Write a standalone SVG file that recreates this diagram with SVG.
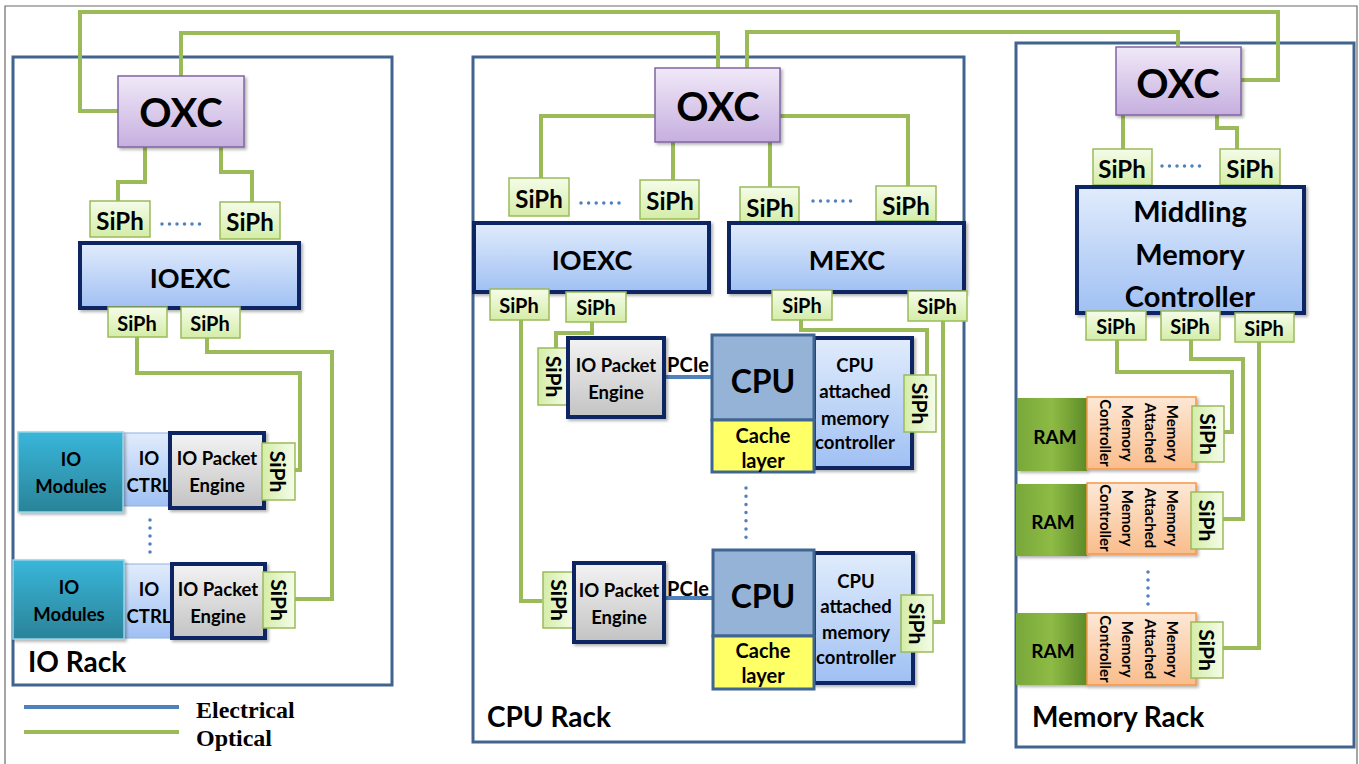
<svg xmlns="http://www.w3.org/2000/svg" width="1359" height="764" viewBox="0 0 1359 764">
<defs>
<linearGradient id="gOxc" x1="0" y1="0" x2="0" y2="1"><stop offset="0" stop-color="#f0e9f8"/><stop offset="1" stop-color="#c6afdf"/></linearGradient>
<linearGradient id="gExc" x1="0" y1="0" x2="0" y2="1"><stop offset="0" stop-color="#e1ecfc"/><stop offset="1" stop-color="#a0c0f3"/></linearGradient>
<linearGradient id="gSiph" x1="0" y1="0" x2="0" y2="1"><stop offset="0" stop-color="#f5fce9"/><stop offset="1" stop-color="#d4eda8"/></linearGradient>
<linearGradient id="gSiphV" x1="1" y1="0" x2="0" y2="0"><stop offset="0" stop-color="#f5fce9"/><stop offset="1" stop-color="#d4eda8"/></linearGradient>
<linearGradient id="gGray" x1="0" y1="0" x2="0" y2="1"><stop offset="0" stop-color="#f3f3f3"/><stop offset="1" stop-color="#c3c3c3"/></linearGradient>
<linearGradient id="gMod" x1="0" y1="0" x2="0" y2="1"><stop offset="0" stop-color="#39b6da"/><stop offset="1" stop-color="#2a8398"/></linearGradient>
<linearGradient id="gRam" x1="0" y1="0" x2="1" y2="0"><stop offset="0" stop-color="#78a83a"/><stop offset="0.5" stop-color="#8ebb45"/><stop offset="1" stop-color="#5d8b28"/></linearGradient>
<linearGradient id="gMamc" x1="0" y1="0" x2="0" y2="1"><stop offset="0" stop-color="#fde8d6"/><stop offset="1" stop-color="#fabd8c"/></linearGradient>
<filter id="sh" x="-10%" y="-10%" width="130%" height="130%"><feDropShadow dx="2" dy="2" stdDeviation="1.5" flood-color="#000" flood-opacity="0.3"/></filter>
</defs>
<style>
.t{font-family:Lato,"Open Sans","Liberation Sans",sans-serif;font-weight:bold;fill:#000;text-anchor:middle;dominant-baseline:central}
.rack{fill:#fff;stroke:#41648f;stroke-width:3}
.oxc{fill:url(#gOxc);stroke:#8064a2;stroke-width:1.5}
.exc{fill:url(#gExc);stroke:#0c2764;stroke-width:4}
.siph{fill:url(#gSiph);stroke:#9bbb59;stroke-width:1.5}
.siphv{fill:url(#gSiphV);stroke:#9bbb59;stroke-width:1.5}
.eng{fill:url(#gGray);stroke:#0c2764;stroke-width:4}
.mod{fill:url(#gMod);stroke:#92d3e8;stroke-width:1.5}
.ctrl{fill:url(#gExc);stroke:#8eb1e2;stroke-width:1}
.cpu{fill:#95b3d7;stroke:#3f6591;stroke-width:3}
.cache{fill:#ffff66;stroke:#3f6591;stroke-width:3}
.ram{fill:url(#gRam)}
.mamc{fill:url(#gMamc);stroke:#f79646;stroke-width:1.5}
.opt{fill:none;stroke:#9bbb59;stroke-width:4}
.elec{fill:none;stroke:#4f81bd;stroke-width:4}
.dots{fill:none;stroke:#4f81bd;stroke-width:3.5;stroke-linecap:round}
.sT{font-size:24px}.sB{font-size:20px}.sV{font-size:21px}.s18{font-size:18.5px}.sm{font-size:15px}
.leg{font-family:"Liberation Serif",serif;font-weight:bold;font-size:24px;fill:#000}
.rl{font-size:28px;text-anchor:start}
</style>
<rect width="1359" height="764" fill="#fff"/>
<path d="M5,764 V6 H1357 V764" fill="none" stroke="#6b6b6b" stroke-width="1.2"/>

<g id="racks">
<rect id="io-rack" class="rack" x="13" y="57" width="379" height="628"/>
<rect id="cpu-rack" class="rack" x="473" y="57" width="491" height="685"/>
<rect id="mem-rack" class="rack" x="1016" y="43" width="338" height="704"/>
</g>

<g id="connectors">
<path class="opt" d="M118,111 H80 V12 H1278 V80 H1241"/>
<path class="opt" d="M181,76 V33 H718 V68"/>
<path class="opt" d="M747,68 V32 H1178 V47"/>
<path class="opt" d="M145,147 V182 H118 V201"/>
<path class="opt" d="M221,147 V172 H252 V202"/>
<path class="opt" d="M137,337 V373 H300 V470 H295"/>
<path class="opt" d="M207,338 V352 H332 V599 H295"/>
<path class="opt" d="M655,116 H541 V178"/>
<path class="opt" d="M673,142 V180"/>
<path class="opt" d="M770,142 V187"/>
<path class="opt" d="M780,116 H908 V186"/>
<path class="opt" d="M521,320 V601 H542"/>
<path class="opt" d="M592,322 V333 H556 V348"/>
<path class="opt" d="M801,320 V330 H927 V375"/>
<path class="opt" d="M943,321 V622 H933"/>
<path class="opt" d="M1123,115 V149"/>
<path class="opt" d="M1217,115 V128 H1237 V149"/>
<path class="opt" d="M1117,340 V372 H1232 V432 H1224"/>
<path class="opt" d="M1191,340 V359 H1243 V519 H1223"/>
<path class="opt" d="M1259,342 V648 H1223"/>
<path class="elec" d="M664,377 H712" stroke-width="3.5"/>
<path class="elec" d="M664,598 H713" stroke-width="3.5"/>
</g>

<g id="dots">
<path class="dots" d="M162,224 H200" stroke-dasharray="0 7.5"/>
<path class="dots" d="M581,203 H620" stroke-dasharray="0 7.6"/>
<path class="dots" d="M813,201 H858" stroke-dasharray="0 7.5"/>
<path class="dots" d="M1162,166 H1207" stroke-dasharray="0 7.5"/>
<path class="dots" d="M150,520 V553" stroke-dasharray="0 8"/>
<path class="dots" d="M746,488 V538" stroke-dasharray="0 8.2"/>
<path class="dots" d="M1148,572 V605" stroke-dasharray="0 8"/>
</g>

<!-- IO rack -->
<g id="io-oxc"><rect class="oxc" x="118" y="76" width="126" height="71" filter="url(#sh)"/><text class="t" x="181" y="112" font-size="40">OXC</text></g>
<g id="io-siph-t1"><rect class="siph" x="90" y="201" width="60" height="36"/><text class="t sT" x="120" y="220">SiPh</text></g>
<g id="io-siph-t2"><rect class="siph" x="220" y="202" width="60" height="37"/><text class="t sT" x="250" y="221">SiPh</text></g>
<g id="io-ioexc"><rect class="exc" x="80" y="243" width="219" height="65" filter="url(#sh)"/><text class="t" x="190" y="277" font-size="27">IOEXC</text></g>
<g id="io-siph-b1"><rect class="siph" x="108" y="307" width="59" height="30"/><text class="t sB" x="137" y="323">SiPh</text></g>
<g id="io-siph-b2"><rect class="siph" x="181" y="307" width="59" height="31"/><text class="t sB" x="210" y="323">SiPh</text></g>

<g id="io-row1">
<rect class="ctrl" x="118" y="433" width="60" height="73"/>
<text class="t s18" x="149" y="458">IO</text><text class="t s18" x="149" y="485">CTRL</text>
<rect class="mod" x="18" y="432" width="105" height="80" filter="url(#sh)"/>
<text class="t s18" x="71" y="459">IO</text><text class="t s18" x="71" y="486">Modules</text>
<rect class="eng" x="170" y="433" width="94" height="75" filter="url(#sh)"/>
<text class="t s18" x="217" y="458">IO Packet</text><text class="t s18" x="217" y="485">Engine</text>
<rect class="siphv" x="262" y="443" width="33" height="57"/>
<text class="t sV" transform="translate(278.5,471.5) rotate(90)">SiPh</text>
</g>
<g id="io-row2">
<rect class="ctrl" x="118" y="564" width="60" height="74"/>
<text class="t s18" x="149" y="589">IO</text><text class="t s18" x="149" y="616">CTRL</text>
<rect class="mod" x="13" y="560" width="111" height="79" filter="url(#sh)"/>
<text class="t s18" x="69" y="587">IO</text><text class="t s18" x="69" y="614">Modules</text>
<rect class="eng" x="172" y="564" width="93" height="74" filter="url(#sh)"/>
<text class="t s18" x="218" y="589">IO Packet</text><text class="t s18" x="218" y="616">Engine</text>
<rect class="siphv" x="263" y="572" width="32" height="56"/>
<text class="t sV" transform="translate(279,600) rotate(90)">SiPh</text>
</g>
<text class="t rl" x="28" y="661">IO Rack</text>

<!-- legend -->
<g id="legend">
<path class="elec" d="M24,707 H179"/>
<path class="opt" d="M24,732 H179"/>
<text class="leg" x="196" y="718">Electrical</text>
<text class="leg" x="196" y="746">Optical</text>
</g>

<!-- CPU rack -->
<g id="cpu-oxc"><rect class="oxc" x="655" y="68" width="125" height="74" filter="url(#sh)"/><text class="t" x="718" y="106" font-size="40">OXC</text></g>
<g id="cpu-siph-t1"><rect class="siph" x="509" y="178" width="60" height="38"/><text class="t sT" x="539" y="198">SiPh</text></g>
<g id="cpu-siph-t2"><rect class="siph" x="640" y="180" width="59" height="39"/><text class="t sT" x="670" y="200">SiPh</text></g>
<g id="cpu-siph-t3"><rect class="siph" x="740" y="187" width="59" height="35"/><text class="t sT" x="770" y="207">SiPh</text></g>
<g id="cpu-siph-t4"><rect class="siph" x="876" y="186" width="60" height="35"/><text class="t sT" x="906" y="205">SiPh</text></g>
<g id="cpu-ioexc"><rect class="exc" x="474" y="223" width="235" height="69" filter="url(#sh)"/><text class="t" x="592" y="259" font-size="27">IOEXC</text></g>
<g id="cpu-mexc"><rect class="exc" x="729" y="223" width="235" height="69" filter="url(#sh)"/><text class="t" x="847" y="259" font-size="27">MEXC</text></g>
<g id="cpu-siph-b1"><rect class="siph" x="490" y="289" width="59" height="31"/><text class="t sB" x="519" y="305">SiPh</text></g>
<g id="cpu-siph-b2"><rect class="siph" x="566" y="292" width="60" height="30"/><text class="t sB" x="596" y="307">SiPh</text></g>
<g id="cpu-siph-b3"><rect class="siph" x="772" y="290" width="60" height="30"/><text class="t sB" x="802" y="305">SiPh</text></g>
<g id="cpu-siph-b4"><rect class="siph" x="908" y="291" width="59" height="30"/><text class="t sB" x="937" y="306">SiPh</text></g>

<g id="cpu-group1">
<rect class="siphv" x="538" y="348" width="32" height="57"/>
<text class="t sV" transform="translate(554,376.5) rotate(90)">SiPh</text>
<rect class="eng" x="568" y="338" width="96" height="79" filter="url(#sh)"/>
<text class="t s18" x="616" y="365">IO Packet</text><text class="t s18" x="616" y="392">Engine</text>
<text class="t" x="688" y="364" font-size="20">PCIe</text>
<rect class="exc" x="814" y="338" width="98" height="130" filter="url(#sh)"/>
<text class="t s18" x="855" y="365">CPU</text><text class="t s18" x="855" y="391">attached</text><text class="t s18" x="855" y="418">memory</text><text class="t s18" x="855" y="442">controller</text>
<rect class="cpu" x="712" y="335" width="102" height="85"/>
<text class="t" x="763" y="380" font-size="32">CPU</text>
<rect class="cache" x="712" y="420" width="102" height="52"/>
<text class="t" x="763" y="435" font-size="20">Cache</text><text class="t" x="763" y="460" font-size="20">layer</text>
<rect class="siphv" x="904" y="375" width="32" height="57"/>
<text class="t sV" transform="translate(920,403.5) rotate(90)">SiPh</text>
</g>
<g id="cpu-group2">
<rect class="siphv" x="543" y="572" width="32" height="56"/>
<text class="t sV" transform="translate(559,600) rotate(90)">SiPh</text>
<rect class="eng" x="574" y="563" width="90" height="79" filter="url(#sh)"/>
<text class="t s18" x="619" y="590">IO Packet</text><text class="t s18" x="619" y="617">Engine</text>
<text class="t" x="688" y="588" font-size="20">PCIe</text>
<rect class="exc" x="814" y="553" width="99" height="130" filter="url(#sh)"/>
<text class="t s18" x="856" y="581">CPU</text><text class="t s18" x="856" y="606">attached</text><text class="t s18" x="856" y="632">memory</text><text class="t s18" x="856" y="657">controller</text>
<rect class="cpu" x="713" y="550" width="101" height="86"/>
<text class="t" x="763" y="595" font-size="32">CPU</text>
<rect class="cache" x="713" y="636" width="101" height="53"/>
<text class="t" x="763" y="650" font-size="20">Cache</text><text class="t" x="763" y="675" font-size="20">layer</text>
<rect class="siphv" x="901" y="595" width="32" height="57"/>
<text class="t sV" transform="translate(917,623.5) rotate(90)">SiPh</text>
</g>
<text class="t rl" x="487" y="716">CPU Rack</text>

<!-- Memory rack -->
<g id="mem-oxc"><rect class="oxc" x="1116" y="47" width="125" height="68" filter="url(#sh)"/><text class="t" x="1178" y="83" font-size="40">OXC</text></g>
<g id="mem-siph-t1"><rect class="siph" x="1093" y="149" width="59" height="36"/><text class="t sT" x="1122" y="168">SiPh</text></g>
<g id="mem-siph-t2"><rect class="siph" x="1220" y="149" width="60" height="36"/><text class="t sT" x="1250" y="168">SiPh</text></g>
<g id="mem-mmc"><rect class="exc" x="1077" y="187" width="227" height="126" filter="url(#sh)"/>
<text class="t" x="1190" y="210" font-size="29">Middling</text><text class="t" x="1190" y="253" font-size="29">Memory</text><text class="t" x="1190" y="295" font-size="29">Controller</text></g>
<g id="mem-siph-b1"><rect class="siph" x="1086" y="311" width="60" height="29"/><text class="t sB" x="1116" y="326">SiPh</text></g>
<g id="mem-siph-b2"><rect class="siph" x="1161" y="311" width="59" height="29"/><text class="t sB" x="1190" y="326">SiPh</text></g>
<g id="mem-siph-b3"><rect class="siph" x="1235" y="313" width="59" height="29"/><text class="t sB" x="1264" y="328">SiPh</text></g>

<g id="mem-row1">
<rect class="ram" x="1017" y="398" width="70" height="73" filter="url(#sh)"/>
<text class="t" x="1055" y="436" font-size="19">RAM</text>
<rect class="mamc" x="1087" y="397" width="109" height="72" filter="url(#sh)"/>
<g transform="translate(1140,433) rotate(90)"><text class="t sm" y="-33">Memory</text><text class="t sm" y="-11">Attached</text><text class="t sm" y="12">Memory</text><text class="t sm" y="34">Controller</text></g>
<rect class="siphv" x="1192" y="406" width="32" height="56"/>
<text class="t sV" transform="translate(1208,434) rotate(90)">SiPh</text>
</g>
<g id="mem-row2">
<rect class="ram" x="1016" y="484" width="71" height="72" filter="url(#sh)"/>
<text class="t" x="1053" y="521" font-size="19">RAM</text>
<rect class="mamc" x="1087" y="483" width="109" height="71" filter="url(#sh)"/>
<g transform="translate(1140,518) rotate(90)"><text class="t sm" y="-33">Memory</text><text class="t sm" y="-11">Attached</text><text class="t sm" y="12">Memory</text><text class="t sm" y="34">Controller</text></g>
<rect class="siphv" x="1191" y="492" width="32" height="57"/>
<text class="t sV" transform="translate(1207,520.5) rotate(90)">SiPh</text>
</g>
<g id="mem-row3">
<rect class="ram" x="1016" y="613" width="71" height="72" filter="url(#sh)"/>
<text class="t" x="1053" y="650" font-size="19">RAM</text>
<rect class="mamc" x="1087" y="613" width="109" height="72" filter="url(#sh)"/>
<g transform="translate(1140,649) rotate(90)"><text class="t sm" y="-33">Memory</text><text class="t sm" y="-11">Attached</text><text class="t sm" y="12">Memory</text><text class="t sm" y="34">Controller</text></g>
<rect class="siphv" x="1191" y="622" width="32" height="56"/>
<text class="t sV" transform="translate(1207,650) rotate(90)">SiPh</text>
</g>
<text class="t rl" x="1032" y="716">Memory Rack</text>
</svg>
